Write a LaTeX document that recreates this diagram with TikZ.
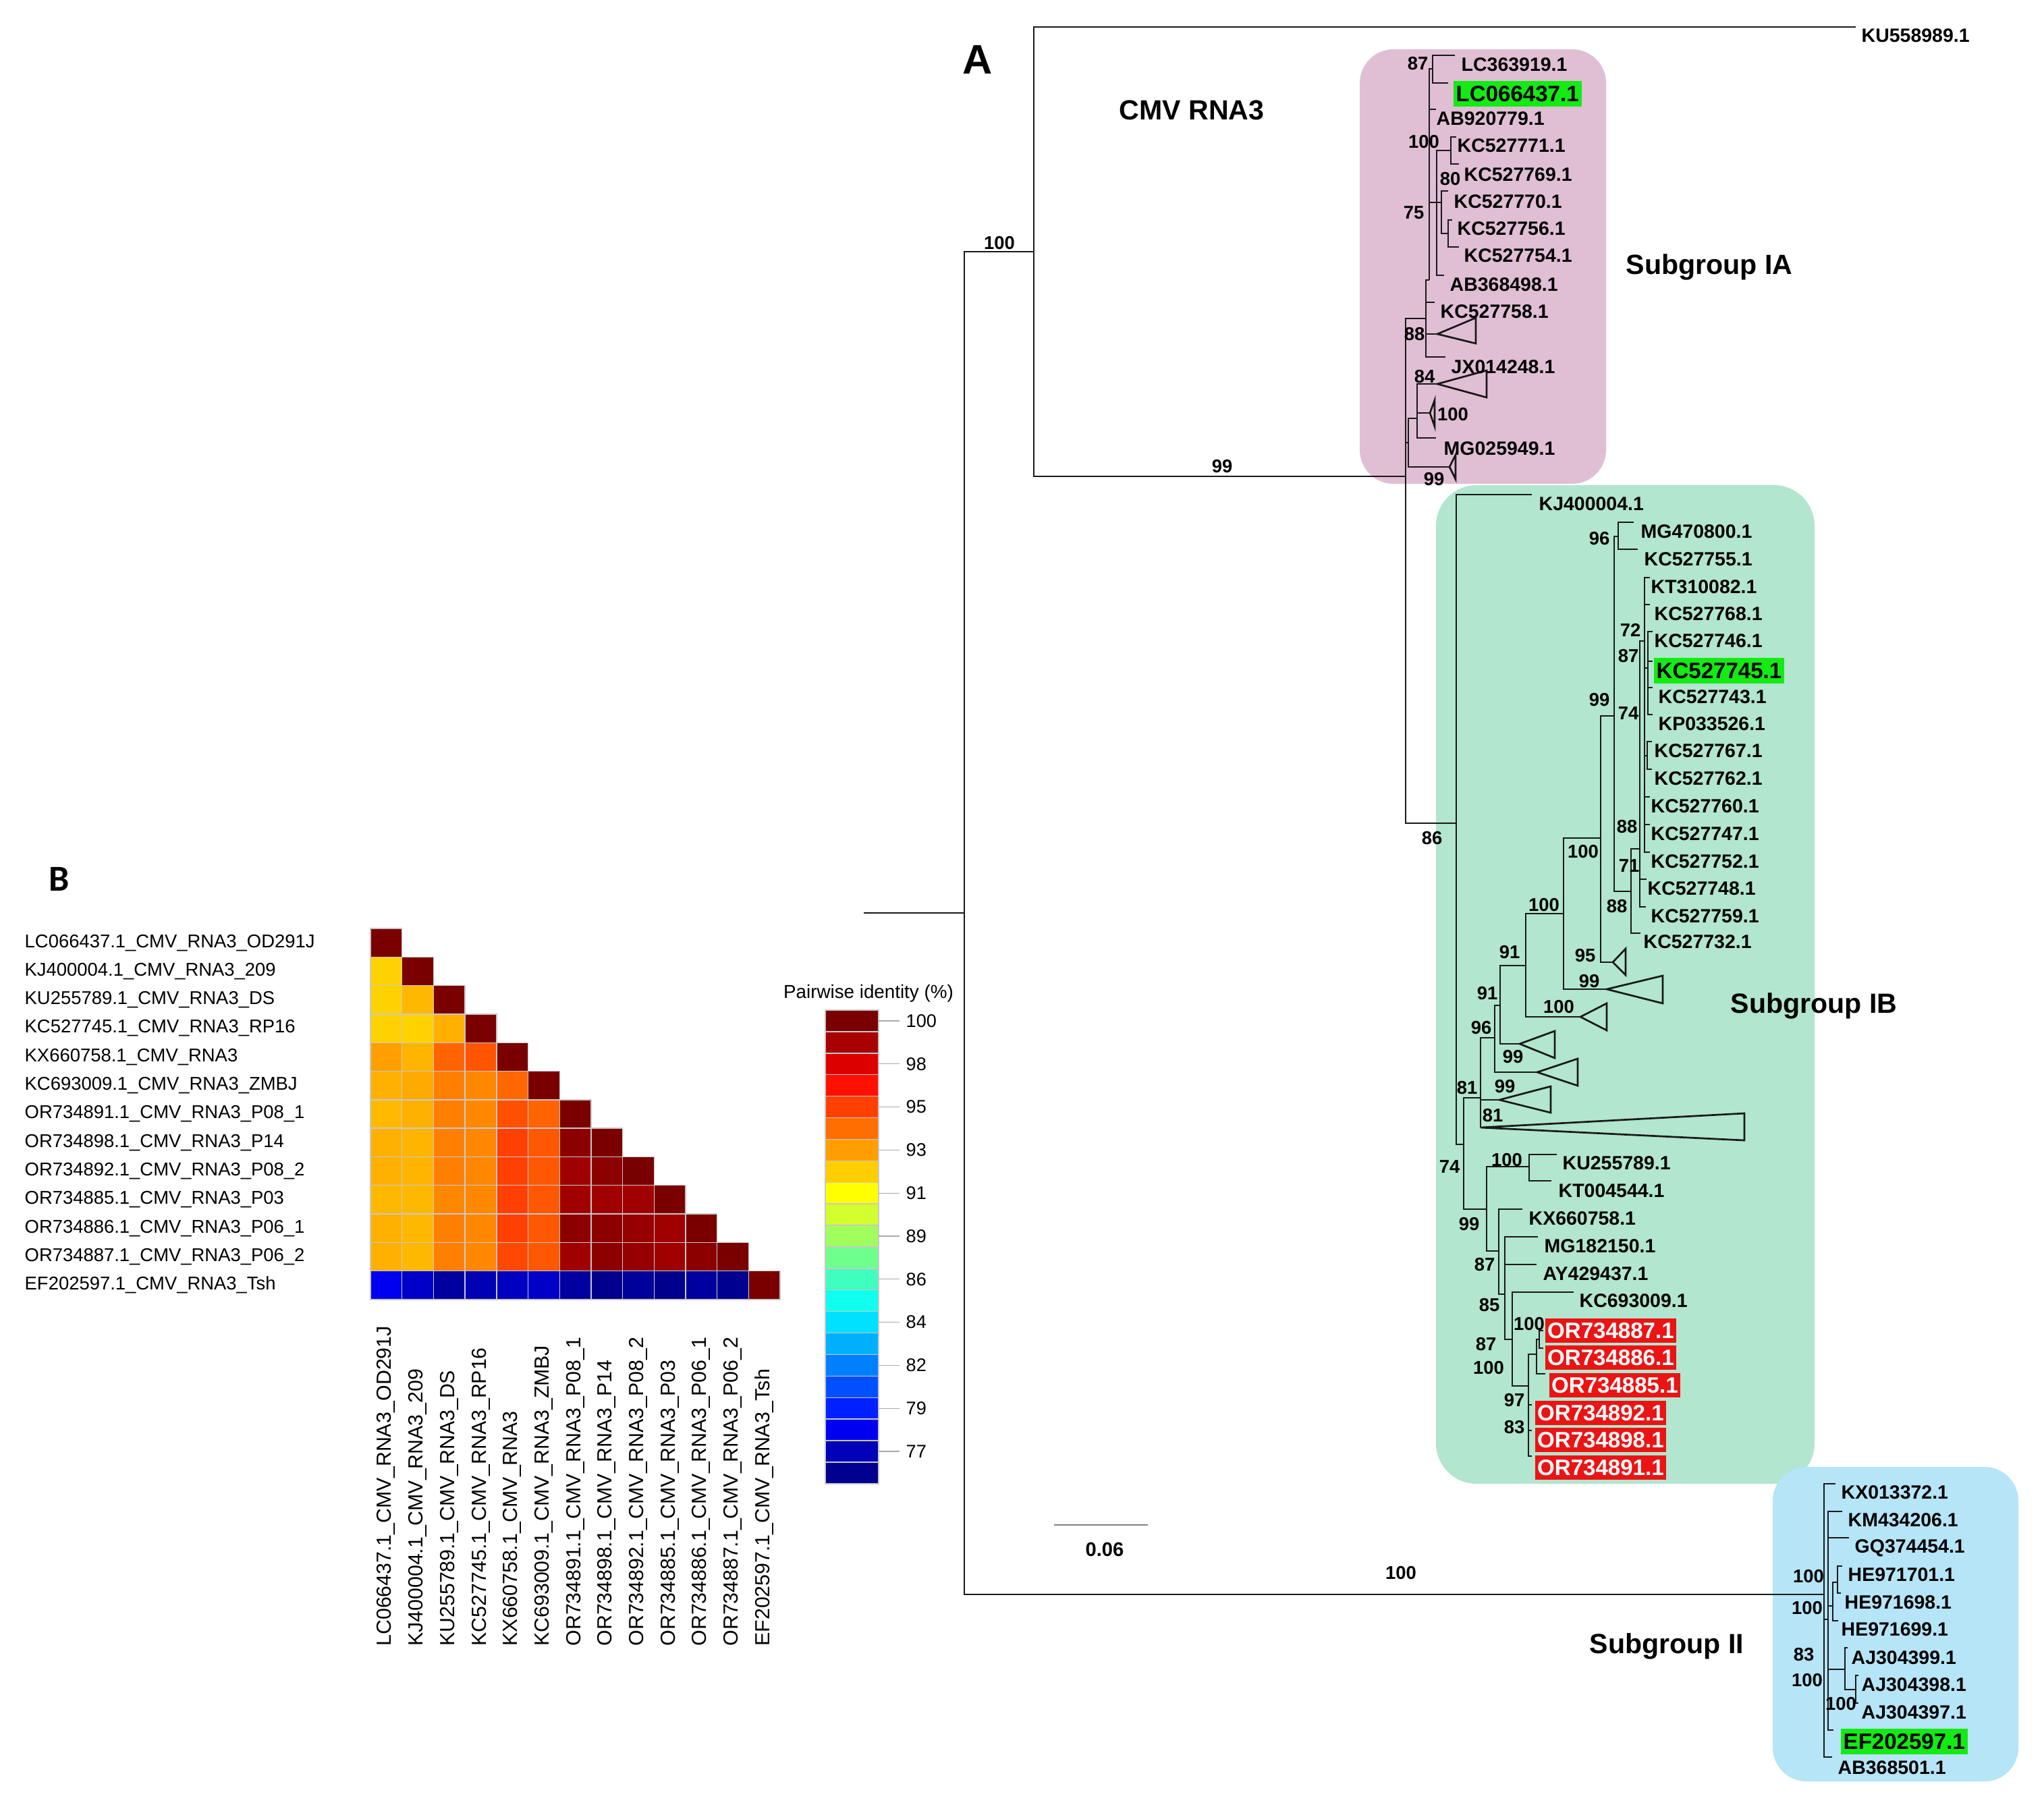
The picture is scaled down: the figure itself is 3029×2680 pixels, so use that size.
\documentclass[tikz,border=0pt]{standalone}
\usepackage{fontspec}
\setmainfont{Liberation Sans}
\newfontfamily\calfont{Carlito}
\newcommand\mytree{\fontsize{8.1}{9.7}\selectfont\bfseries}
\newcommand\myhl{\fontsize{9.4}{11}\selectfont\bfseries}
\newcommand\mybs{\fontsize{7.8}{9.4}\selectfont\bfseries}
\newcommand\mysub{\fontsize{11.7}{14}\selectfont\bfseries}
\newcommand\myrow{\fontsize{7.8}{9.4}\selectfont}
\newcommand\mycol{\fontsize{8.6}{10.3}\selectfont}
\newcommand\myleg{\fontsize{7.7}{9.2}\selectfont}
\definecolor{boxIA}{RGB}{224,191,213}
\definecolor{boxIB}{RGB}{178,230,206}
\definecolor{boxII}{RGB}{181,229,247}
\definecolor{hgreen}{RGB}{20,235,20}
\definecolor{hred}{RGB}{235,20,20}
\definecolor{treeline}{RGB}{25,25,25}
\definecolor{cellline}{RGB}{200,200,200}
\definecolor{tickgray}{RGB}{170,170,170}
\definecolor{scalegray}{RGB}{130,130,130}
\begin{document}
\begin{tikzpicture}[x=0.01cm,y=-0.01cm,
  br/.style={line width=0.77pt, draw=treeline},
  leaf/.style={anchor=west, inner sep=0pt, font=\mytree},
  hlg/.style={anchor=west, fill=hgreen, inner xsep=0.04cm, inner ysep=0pt, minimum height=0.38cm, font=\myhl},
  hlr/.style={anchor=west, fill=hred, text=white, inner xsep=0.035cm, inner ysep=0pt, minimum height=0.36cm, font=\myhl},
  bs/.style={inner sep=0pt, font=\mybs},
  grp/.style={anchor=west, inner sep=0pt, font=\mysub},
  cell/.style={draw=cellline, line width=0.4pt},
  rowlab/.style={anchor=west, inner sep=0pt, font=\myrow},
  collab/.style={anchor=west, inner sep=0pt, font=\mycol, rotate=90},
  legbox/.style={draw=cellline, line width=0.4pt},
  legtxt/.style={anchor=west, inner sep=0pt, font=\myleg}]
\fill[white] (0,0) rectangle (3029,2680);
\useasboundingbox (0,0) rectangle (3029,2680);

% subgroup boxes
\fill[boxIA, rounded corners=0.5cm] (2015,73) rectangle (2380,717);
\fill[boxIB, rounded corners=0.6cm] (2128,719) rectangle (2689,2199);
\fill[boxII, rounded corners=0.5cm] (2627,2174) rectangle (2991,2640);

% ---------- tree coordinates ----------
\coordinate (r0) at (1280,1353);
\coordinate (R) at (1429,1353);
\coordinate (N1) at (1532,373);
\coordinate (tKU) at (2750,40);
\coordinate (N2) at (2083,706);
\coordinate (NII) at (2703,2363);
% IA
\coordinate (A1) at (2113,472);
\coordinate (A2) at (2118,415);
\coordinate (tKC758) at (2126,448);
\coordinate (t88) at (2130,495);
\coordinate (tJX) at (2142,529);
\coordinate (A87) at (2123,102);
\coordinate (tLC919) at (2156,82);
\coordinate (tLC437) at (2146,123);
\coordinate (tAB779) at (2128,162);
\coordinate (A100) at (2129,300);
\coordinate (P71) at (2150,223);
\coordinate (tKC771) at (2158,203);
\coordinate (tKC769) at (2162,243);
\coordinate (A80) at (2136,300);
\coordinate (tKC770) at (2146,283);
\coordinate (P56) at (2146,346);
\coordinate (tKC756) at (2152,326);
\coordinate (tKC754) at (2162,366);
\coordinate (tAB498) at (2140,408);
\coordinate (A3) at (2087,656);
\coordinate (A84) at (2100,620);
\coordinate (t84) at (2130,569);
\coordinate (t100s) at (2119,612);
\coordinate (tMG949) at (2128,649);
\coordinate (t99s) at (2148,692);
% IB
\coordinate (B0) at (2158,1220);
\coordinate (tKJ) at (2270,733);
\coordinate (B1) at (2169,1696);
\coordinate (B81) at (2194,1627);
\coordinate (B96) at (2215,1538);
\coordinate (B91a) at (2223,1490);
\coordinate (B91b) at (2261,1431);
\coordinate (B100a) at (2317,1354);
\coordinate (B100b) at (2372,1242);
\coordinate (B99) at (2392,1061);
\coordinate (B96b) at (2398,795);
\coordinate (tMG800) at (2421,774);
\coordinate (tKC755) at (2427,814);
\coordinate (B88) at (2417,1321);
\coordinate (B74) at (2430,1258);
\coordinate (tKC732) at (2431,1383);
\coordinate (Bpol) at (2437,950);
\coordinate (tKC748) at (2440,1303);
\coordinate (tKC759) at (2439,1344);
\coordinate (tKT082) at (2445,856);
\coordinate (tKC768) at (2445,896);
\coordinate (B87) at (2442,990);
\coordinate (tKC746) at (2449,936);
\coordinate (tKC745) at (2449,980);
\coordinate (tKC743) at (2449,1019);
\coordinate (tKP526) at (2449,1059);
\coordinate (B62) at (2441,1120);
\coordinate (tKC767) at (2448,1099);
\coordinate (tKC762) at (2448,1140);
\coordinate (tKC760) at (2445,1181);
\coordinate (tKC747) at (2445,1222);
\coordinate (tKC752) at (2445,1263);
\coordinate (t95) at (2390,1426);
\coordinate (t99b) at (2381,1466);
\coordinate (t100c) at (2342,1507);
\coordinate (t99c) at (2252,1547);
\coordinate (t99d) at (2278,1589);
\coordinate (t99e) at (2222,1630);
\coordinate (tbig) at (2194,1671);
\coordinate (B99b) at (2203,1792);
\coordinate (B100k) at (2266,1729);
\coordinate (tKU789) at (2307,1711);
\coordinate (tKT544) at (2299,1750);
\coordinate (B87b) at (2221,1854);
\coordinate (tKX758) at (2256,1792);
\coordinate (B85) at (2230,1918);
\coordinate (tMG150) at (2279,1833);
\coordinate (tAY437) at (2277,1874);
\coordinate (B87c) at (2241,1985);
\coordinate (tKC009) at (2332,1915);
\coordinate (B100o) at (2265,2054);
\coordinate (B100p) at (2277,2007);
\coordinate (B886) at (2281,1985);
\coordinate (tOR887) at (2287,1972);
\coordinate (tOR886) at (2287,1998);
\coordinate (tOR885) at (2290,2036);
\coordinate (tOR892) at (2270,2082);
\coordinate (tOR898) at (2270,2120);
\coordinate (tOR891) at (2270,2158);
% II
\coordinate (tKX372) at (2720,2199);
\coordinate (II2) at (2709,2400);
\coordinate (tKM206) at (2730,2240);
\coordinate (tGQ454) at (2740,2279);
\coordinate (IIhe) at (2716,2380);
\coordinate (IIhe2) at (2723,2345);
\coordinate (tHE701) at (2730,2321);
\coordinate (tHE698) at (2728,2361);
\coordinate (tHE699) at (2724,2402);
\coordinate (IIaj) at (2734,2474);
\coordinate (tAJ399) at (2738,2442);
\coordinate (IIaj2) at (2750,2504);
\coordinate (tAJ398) at (2754,2483);
\coordinate (tAJ397) at (2754,2524);
\coordinate (tEF) at (2717,2564);
\coordinate (tAB501) at (2715,2604);

% ---------- tree branches ----------
\draw[br] (r0) -- (R);
\foreach \p/\c in {R/N1, N1/tKU, N1/N2, R/NII,
  N2/A1, A1/A2, A1/tKC758, A1/t88, A1/tJX,
  A2/A87, A87/tLC919, A87/tLC437, A2/tAB779, A2/A100, A100/P71, P71/tKC771, P71/tKC769,
  A100/A80, A80/tKC770, A80/P56, P56/tKC756, P56/tKC754, A100/tAB498,
  N2/A3, A3/A84, A84/t84, A84/t100s, A84/tMG949, A3/t99s,
  N2/B0, B0/tKJ, B0/B1, B1/B81, B81/B96, B96/B91a, B91a/B91b, B91b/B100a, B100a/B100b,
  B100b/B99, B99/B96b, B96b/tMG800, B96b/tKC755, B99/B88, B88/B74, B88/tKC732,
  B74/Bpol, B74/tKC748, B74/tKC759, Bpol/tKT082, Bpol/tKC768, Bpol/B87,
  B87/tKC746, B87/tKC745, B87/tKC743, B87/tKP526, Bpol/B62, B62/tKC767, B62/tKC762,
  Bpol/tKC760, Bpol/tKC747, Bpol/tKC752,
  B100b/t95, B100a/t99b, B91b/t100c, B91a/t99c, B96/t99d, B81/t99e, B81/tbig,
  B1/B99b, B99b/B100k, B100k/tKU789, B100k/tKT544, B99b/B87b, B87b/tKX758, B87b/B85,
  B85/tMG150, B85/tAY437, B85/B87c, B87c/tKC009, B87c/B100o, B100o/B100p, B100p/B886,
  B886/tOR887, B886/tOR886, B100p/tOR885, B100o/tOR892, B100o/tOR898, B100o/tOR891,
  NII/tKX372, NII/II2, II2/tKM206, II2/tGQ454, II2/IIhe, IIhe/IIhe2, IIhe2/tHE701,
  IIhe2/tHE698, IIhe/tHE699, II2/IIaj, IIaj/tAJ399, IIaj/IIaj2, IIaj2/tAJ398,
  IIaj2/tAJ397, II2/tEF, NII/tAB501}
  \draw[br] (\p) |- (\c);

% collapsed clades
\foreach \a/\x/\ya/\yb in {t88/2187/471/509, t84/2203/549/589, t100s/2126/593/632,
  t99s/2157/674/710, t95/2409/1406/1445, t99b/2464/1446/1487, t100c/2381/1487/1527,
  t99c/2304/1528/1568, t99d/2338/1569/1609, t99e/2298/1610/1649, tbig/2585/1650/1690}
  \draw[br] (\a) -- (\x,\ya) -- (\x,\yb) -- cycle;

% ---------- leaf labels ----------
\foreach \n/\x/\y/\t in {lKU/2758/53/KU558989.1, lLC919/2165/96/LC363919.1,
  lAB779/2128/176/AB920779.1, lKC771/2159/216/KC527771.1, lKC769/2169/259/KC527769.1,
  lKC770/2154/299/KC527770.1, lKC756/2159/339/KC527756.1, lKC754/2169/379/KC527754.1,
  lAB498/2148/422/AB368498.1, lKC758/2134/462/KC527758.1, lJX/2150/544/JX014248.1,
  lMG949/2139/665/MG025949.1, lKJ/2280/747/KJ400004.1, lMG800/2431/788/MG470800.1,
  lKC755/2436/829/KC527755.1, lKT082/2446/870/KT310082.1, lKC768/2451/910/KC527768.1,
  lKC746/2451/950/KC527746.1, lKC743/2457/1033/KC527743.1, lKP526/2457/1073/KP033526.1,
  lKC767/2451/1113/KC527767.1, lKC762/2451/1154/KC527762.1, lKC760/2446/1195/KC527760.1,
  lKC747/2446/1236/KC527747.1, lKC752/2446/1277/KC527752.1, lKC748/2441/1317/KC527748.1,
  lKC759/2446/1358/KC527759.1, lKC732/2435/1396/KC527732.1, lKU789/2315/1724/KU255789.1,
  lKT544/2309/1765/KT004544.1, lKX758/2265/1806/KX660758.1, lMG150/2288/1847/MG182150.1,
  lAY437/2286/1888/AY429437.1, lKC009/2340/1928/KC693009.1,
  lKX372/2728/2212/KX013372.1, lKM206/2738/2253/KM434206.1, lGQ454/2748/2294/GQ374454.1,
  lHE701/2738/2334/HE971701.1, lHE698/2733/2375/HE971698.1, lHE699/2728/2415/HE971699.1,
  lAJ399/2743/2457/AJ304399.1, lAJ398/2758/2497/AJ304398.1, lAJ397/2758/2538/AJ304397.1,
  lAB501/2723/2620/AB368501.1}
  \node[leaf] (\n) at (\x,\y) {\t};

\node[hlg] (lLC437) at (2153,139) {LC066437.1};
\node[hlg] (lKC745) at (2450,994) {KC527745.1};
\node[hlg] (lEF) at (2727,2581) {EF202597.1};
\node[hlr] (lOR887) at (2289,1972) {OR734887.1};
\node[hlr] (lOR886) at (2289,2012) {OR734886.1};
\node[hlr] (lOR885) at (2295,2053) {OR734885.1};
\node[hlr] (lOR892) at (2274,2094) {OR734892.1};
\node[hlr] (lOR898) at (2274,2134) {OR734898.1};
\node[hlr] (lOR891) at (2274,2175) {OR734891.1};

% ---------- bootstrap values ----------
\foreach \n/\x/\y/\t in {m1/1481/360/100, m2/1811/691/99, m3/2076/2331/100,
  a1/2101/94/87, a2/2110/210/100, a3/2149/265/80, a4/2095/315/75, a5/2096/495/88,
  a6/2111/558/84, a7/2153/614/100, a8/2125/710/99,
  b1/2122/1242/86, b2/2370/798/96, b3/2370/1037/99, b4/2416/934/72, b5/2413/972/87,
  b6/2413/1057/74, b7/2411/1225/88, b8/2414/1283/71, b9/2346/1262/100, b10/2396/1343/88,
  b11/2288/1341/100, b12/2349/1416/95, b13/2355/1454/99, b14/2237/1411/91,
  b15/2310/1492/100, b16/2204/1472/91, b17/2195/1523/96, b18/2242/1566/99,
  b19/2174/1612/81, b20/2230/1610/99, b21/2212/1653/81, b22/2148/1729/74,
  b23/2233/1719/100, b24/2177/1814/99, b25/2200/1874/87, b26/2207/1934/85,
  b27/2266/1962/100, b28/2202/1992/87, b29/2206/2027/100, b30/2244/2075/97,
  b31/2244/2115/83,
  c1/2680/2336/100, c2/2678/2383/100, c3/2673/2452/83, c4/2678/2490/100, c5/2728/2525/100}
  \node[bs] (\n) at (\x,\y) {\t};

% ---------- titles ----------
\node[inner sep=0pt, font=\fontsize{17.4}{20}\selectfont\bfseries] (pA) at (1449,88) {A};
\node[inner sep=0pt, font=\fontsize{15.4}{18}\selectfont\calfont\bfseries] (pB) at (88,1303) {B};
\node[inner sep=0pt, font=\mysub] (cmv) at (1766,163) {CMV RNA3};
\node[grp] (gIA) at (2409,396) {Subgroup IA};
\node[grp] (gIB) at (2564,1491) {Subgroup IB};
\node[grp] (gII) at (2355,2440) {Subgroup II};

% scale bar
\coordinate (sb1) at (1562,2260);
\coordinate (sb2) at (1701,2260);
\draw[scalegray, line width=0.6pt] (sb1) -- (sb2);
\node[inner sep=0pt, font=\fontsize{8.3}{10}\selectfont\bfseries] (sbl) at (1637,2296) {0.06};

% ---------- heatmap ----------
\foreach \r/\lst in {0/{7A0000},
  1/{FFD200,7A0000},
  2/{FFD200,FFB800,7A0000},
  3/{FFD200,FFD200,FFB000,7A0000},
  4/{FFA000,FFB400,FF6400,FF5500,7A0000},
  5/{FFB000,FFAA00,FF8000,FF8800,FF6800,7A0000},
  6/{FFBA00,FFB000,FF8000,FF8800,FF5000,FF6400,7A0000},
  7/{FFB000,FFB400,FF8000,FF8800,FF4000,FF5800,8C0000,7A0000},
  8/{FFB000,FFB400,FF8000,FF8800,FF4000,FF5800,A00000,8C0000,7A0000},
  9/{FFB800,FFB800,FF8800,FF8800,FF4000,FF5800,A00000,A00000,A00000,7A0000},
  10/{FFB000,FFB800,FF8000,FF8800,FF4000,FF5800,8C0000,8C0000,960000,A00000,7A0000},
  11/{FFB000,FFB800,FF8000,FF8800,FF4800,FF5800,A00000,8C0000,960000,A00000,8C0000,7A0000},
  12/{0000F0,0000C8,0000A0,0000B4,0000C0,0000C8,0000A0,00008C,00009A,00008C,0000A0,000090,7A0000}}
{
  \foreach \col [count=\c from 0] in \lst {
    \definecolor{cellc}{HTML}{\col}
    \draw[cell, fill=cellc] ({549+46.7*\c},{1376+42.3*\r}) rectangle ++(46.7,42.3);
  }
}
\foreach \r/\t in {0/LC066437.1\_CMV\_RNA3\_OD291J, 1/KJ400004.1\_CMV\_RNA3\_209,
  2/KU255789.1\_CMV\_RNA3\_DS, 3/KC527745.1\_CMV\_RNA3\_RP16, 4/KX660758.1\_CMV\_RNA3,
  5/KC693009.1\_CMV\_RNA3\_ZMBJ, 6/OR734891.1\_CMV\_RNA3\_P08\_1, 7/OR734898.1\_CMV\_RNA3\_P14,
  8/OR734892.1\_CMV\_RNA3\_P08\_2, 9/OR734885.1\_CMV\_RNA3\_P03, 10/OR734886.1\_CMV\_RNA3\_P06\_1,
  11/OR734887.1\_CMV\_RNA3\_P06\_2, 12/EF202597.1\_CMV\_RNA3\_Tsh}
{
  \node[rowlab] (rl\r) at (36,{1376+42.3*(\r+0.5)}) {\t};
  \node[collab] (cl\r) at ({549+46.7*(\r+0.5)},2440) {\t};
}

% ---------- legend ----------
\node[inner sep=0pt, font=\fontsize{7.9}{9.5}\selectfont] (legt) at (1287,1472) {Pairwise identity (\%)};
\foreach \i/\col in {0/7A0000, 1/A80000, 2/DC0000, 3/FF1000, 4/FF4000, 5/FF6E00, 6/FF9E00,
  7/FFCE00, 8/FFFF00, 9/D2FF2D, 10/A0FF5C, 11/6EFF8C, 12/3FFFBE, 13/10FFEE, 14/00E0FF,
  15/00B0FF, 16/0080FF, 17/0050FF, 18/0020FF, 19/0000F0, 20/0000B8, 21/000090}
{
  \definecolor{legc}{HTML}{\col}
  \draw[legbox, fill=legc] (1223,{1497+31.9*\i}) rectangle ++(79,31.9);
}
\foreach \i/\v in {0/100, 2/98, 4/95, 6/93, 8/91, 10/89, 12/86, 14/84, 16/82, 18/79, 20/77}
{
  \node[legtxt] (lv\i) at (1342,{1497+31.9*(\i+0.5)}) {\v};
  \draw[tickgray, line width=0.35pt] (1302,{1497+31.9*(\i+0.5)}) -- (lv\i.west -| 1333,0);
}
\end{tikzpicture}
\end{document}
